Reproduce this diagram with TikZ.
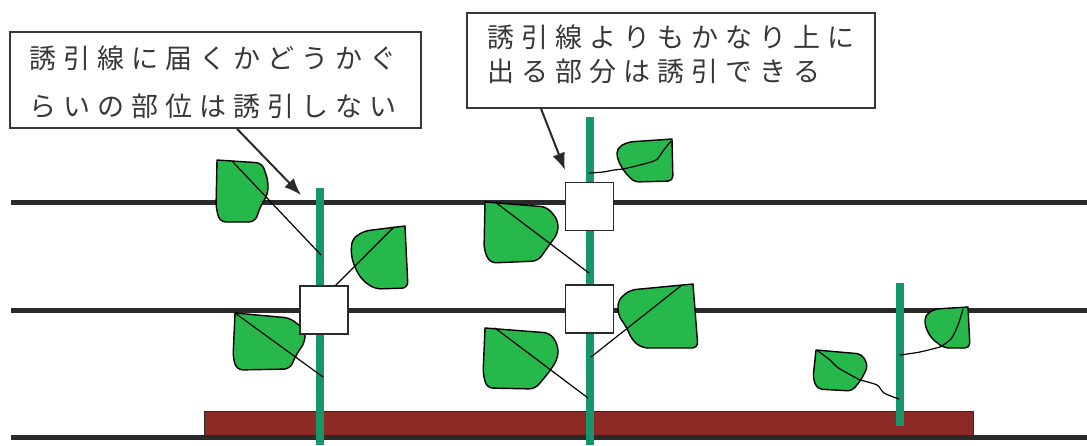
\documentclass[tikz,border=0pt]{standalone}
\usepackage{fontspec}
\newfontfamily\jpfont{Noto Sans CJK JP}
\usetikzlibrary{arrows.meta}
\definecolor{wirecol}{HTML}{2A2A2A}
\definecolor{stakecol}{HTML}{17966C}
\definecolor{leafcol}{HTML}{27B84B}
\definecolor{soilcol}{HTML}{8E2A26}
\definecolor{inkcol}{HTML}{383838}
% letter-spaced Japanese text: a kern after every character
\newlength\chargap \setlength\chargap{7pt}
\makeatletter
\def\spacedtext#1{\spacedtext@#1\@nil}
\def\spacedtext@#1{\ifx#1\@nil\else#1\kern\chargap\expandafter\spacedtext@\fi}
\makeatother
\begin{document}
\begin{tikzpicture}[x=1pt,y=-1pt,
  wireline/.style={draw=wirecol,line width=5pt},
  stakeline/.style={draw=stakecol,line width=8pt},
  tie/.style={draw=wirecol,fill=white,line width=1.5pt,minimum size=48pt,inner sep=0pt},
  leaf/.style={draw=black,fill=leafcol,line width=1.4pt,line join=round},
  vein/.style={draw=black,line width=1.2pt,line cap=round},
  callout/.style={draw=inkcol,line width=1.8pt,fill=white,inner sep=0pt},
  jplabel/.style={font=\jpfont\fontsize{27}{27}\selectfont,text=inkcol,inner sep=0pt,anchor=base west},
  callarrow/.style={draw=wirecol,line width=2pt,-{Latex[length=17pt,width=13pt]}}]
\useasboundingbox (0,0) rectangle (1087,445);
\fill[white] (0,0) rectangle (1087,445);

% raised bed
\draw[draw=wirecol,fill=soilcol,line width=1pt] (204,411) rectangle (973,436);

% training wires
\coordinate (w1a) at (11,202); \coordinate (w1b) at (1087,202);
\coordinate (w2a) at (11,310); \coordinate (w2b) at (1087,310);
\coordinate (w3a) at (11,437); \coordinate (w3b) at (1087,437);
\draw[wireline] (w1a) -- (w1b);
\draw[wireline] (w2a) -- (w2b);
\draw[wireline] (w3a) -- (w3b);

% stems
\coordinate (s1t) at (320,188); \coordinate (s1b) at (320,445);
\coordinate (s2t) at (590,117); \coordinate (s2b) at (590,445);
\coordinate (s3t) at (900,283); \coordinate (s3b) at (900,426);
\draw[stakeline] (s1t) -- (s1b);
\draw[stakeline] (s2t) -- (s2b);
\draw[stakeline] (s3t) -- (s3b);

% leaves (first corner is the sharp leaf tip)
\draw[leaf] (217,160) [rounded corners=6pt] -- (262,163) -- (268,180) -- (268,194) -- (261,205) -- (255,222) -- (220,222) -- (216,208) [sharp corners] -- cycle;
\draw[leaf] (405,226) [rounded corners=6pt] -- (408,288) -- (375,289) -- (362,280) -- (355,268) -- (351,255) -- (352,239) -- (364,231) [sharp corners] -- cycle;
\draw[leaf] (235,313) [rounded corners=6pt] -- (290,318) -- (305,330) -- (305,342) -- (296,355) -- (290,369) -- (237,370) -- (233,358) [sharp corners] -- cycle;
\draw[leaf] (672,139) [rounded corners=5pt] -- (673,181) -- (634,182) -- (623,170) -- (617,158) -- (617,148) -- (628,142) [sharp corners] -- cycle;
\draw[leaf] (485,202) [rounded corners=6pt] -- (547,207) -- (558,220) -- (558,233) -- (550,244) -- (538,261) -- (490,263) -- (484,250) [sharp corners] -- cycle;
\draw[leaf] (693,284) [rounded corners=6pt] -- (698,348) -- (642,348) -- (632,340) -- (627,328) -- (618,315) -- (618,300) -- (630,290) [sharp corners] -- cycle;
\draw[leaf] (485,328) [rounded corners=6pt] -- (550,333) -- (558,345) -- (558,358) -- (550,371) -- (535,389) -- (487,388) -- (483,374) [sharp corners] -- cycle;
\draw[leaf] (968,307) [rounded corners=5pt] -- (970,348) -- (944,348) -- (931,338) -- (925,326) -- (925,315) -- (935,309) [sharp corners] -- cycle;
\draw[leaf] (816,350) [rounded corners=5pt] -- (862,354) -- (868,366) -- (861,380) -- (852,391) -- (817,389) -- (813,378) [sharp corners] -- cycle;

% midribs and leaf stalks
\draw[vein] (232,161) -- (321,255);
\draw[vein] (394,227) -- (333,288);
\draw[vein] (235,313) -- (323,377);
\draw[vein] plot[smooth] coordinates {(623,169) (640,165) (656,160) (663,151) (671,141)};
\draw[vein] plot[smooth] coordinates {(589,173) (603,172) (614,170) (623,169)};
\draw[vein] (495,202) -- (589,273);
\draw[vein] (682,285) -- (591,357);
\draw[vein] (495,328) -- (588,398);
\draw[vein] plot[smooth] coordinates {(963,309) (958,325) (951,339) (940,347)};
\draw[vein] plot[smooth] coordinates {(940,347) (920,352) (900,355)};
\draw[vein] plot[smooth] coordinates {(818,351) (830,360) (837,367) (847,373) (860,380)};
\draw[vein] plot[smooth] coordinates {(860,380) (877,385) (884,393) (899,399)};

% ties where the stems are fastened to the wires
\node[tie] (k1) at (324,310) {};
\node[tie] (k2) at (589.5,206.5) {};
\node[tie] (k3) at (589.5,309) {};

% callouts
\node[callout,minimum width=411pt,minimum height=96pt] (c1) at (215.5,80) {};
\node[callout,minimum width=408pt,minimum height=95pt] (c2) at (671,60.5) {};
\node[jplabel] (c1a) at (29,68) {\spacedtext{誘引線に届くかどうかぐ}};
\node[jplabel] (c1b) at (29,116) {\spacedtext{らいの部位は誘引しない}};
\node[jplabel] (c2a) at (487,47) {\spacedtext{誘引線よりもかなり上に}};
\node[jplabel] (c2b) at (487,81) {\spacedtext{出る部分は誘引できる}};

\coordinate (a1) at (301,195);
\coordinate (a2) at (565,170);
\draw[callarrow] ([xshift=228pt]c1.south west) -- (a1);
\draw[callarrow] ([xshift=75pt]c2.south west) -- (a2);
\end{tikzpicture}
\end{document}
